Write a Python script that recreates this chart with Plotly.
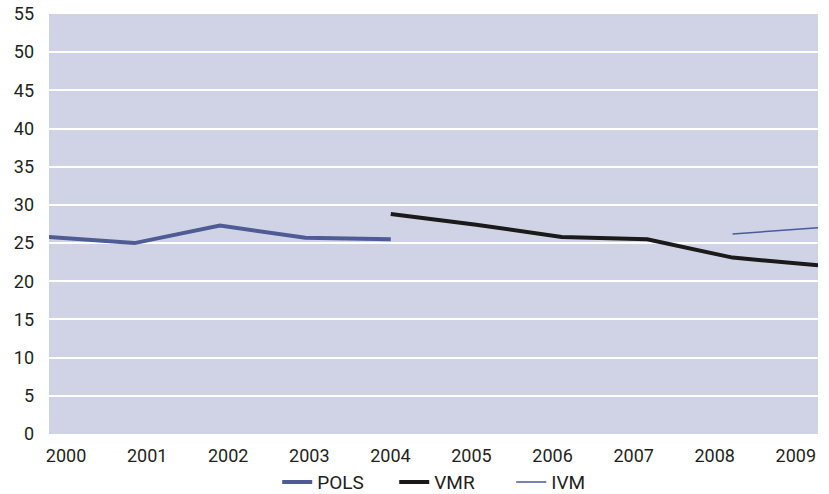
import plotly.graph_objects as go

years = [2000, 2001, 2002, 2003, 2004, 2005, 2006, 2007, 2008, 2009]
tick_labels = [str(y) for y in years]

pols_years = [2000, 2001, 2002, 2003, 2004]
pols_vals = [25.8, 25.0, 27.3, 25.7, 25.5]

vmr_years = [2004, 2005, 2006, 2007, 2008, 2009]
vmr_vals = [28.8, 27.4, 25.8, 25.5, 23.1, 22.1]

ivm_years = [2008, 2009]
ivm_vals = [26.2, 27.0]

fig = go.Figure()
fig.add_trace(go.Scatter(x=pols_years, y=pols_vals, mode="lines", name="POLS",
                         line=dict(color="#4f5b94", width=4)))
fig.add_trace(go.Scatter(x=vmr_years, y=vmr_vals, mode="lines", name="VMR",
                         line=dict(color="#1a1a1a", width=4)))
fig.add_trace(go.Scatter(x=ivm_years, y=ivm_vals, mode="lines", name="IVM",
                         line=dict(color="#4a5a9c", width=1.5)))

# tick labels are spread slightly inside the plot ends, as in the original
n = len(years)
tickpos = [years[0] + 0.2 + i * (8.74 - 0.2) / (n - 1) for i in range(n)]

fig.update_layout(
    width=829, height=494,
    margin=dict(l=49, r=11, t=14, b=60),
    paper_bgcolor="white",
    plot_bgcolor="#d0d3e5",
    font=dict(family="Roboto, 'Liberation Sans', sans-serif", size=18, color="#231f20"),
    showlegend=True,
    legend=dict(orientation="h", x=0.525, xanchor="center", xref="paper",
                y=0.024, yanchor="middle", yref="container",
                font=dict(size=19), tracegroupgap=0, entrywidth=72,
                bgcolor="rgba(0,0,0,0)"),
    xaxis=dict(range=[2000, 2009], tickvals=tickpos, ticktext=tick_labels,
               showgrid=False, zeroline=False, showline=False, ticks="",
               ticklabelstandoff=9, automargin=False),
    yaxis=dict(range=[0, 55], tick0=0, dtick=5, showgrid=True, gridcolor="white",
               gridwidth=2, zeroline=False, showline=False, ticks="",
               ticklabelstandoff=14, automargin=False),
)

fig.write_html("out.html", config={"displayModeBar": False},
               post_script="document.body.style.margin='0';document.body.style.padding='0';")
